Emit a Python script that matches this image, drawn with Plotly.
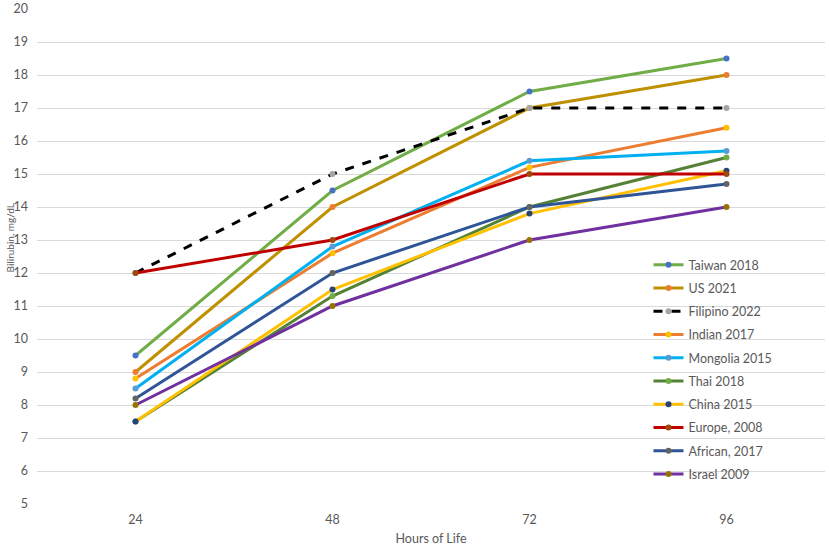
import plotly.graph_objects as go

hours = ["24", "48", "72", "96"]

taiwan_2018 = [9.5, 14.5, 17.5, 18.5]
us_2021 = [9.0, 14.0, 17.0, 18.0]
filipino_2022 = [12.0, 15.0, 17.0, 17.0]
indian_2017 = [8.8, 12.6, 15.2, 16.4]
mongolia_2015 = [8.5, 12.8, 15.4, 15.7]
thai_2018 = [7.5, 11.3, 14.0, 15.5]
china_2015 = [7.5, 11.5, 13.8, 15.1]
europe_2008 = [12.0, 13.0, 15.0, 15.0]
african_2017 = [8.2, 12.0, 14.0, 14.7]
israel_2009 = [8.0, 11.0, 13.0, 14.0]

# name, values, line colour, marker colour, dash
series = [
    ("Taiwan 2018", taiwan_2018, "#70AD47", "#4472C4", "solid"),
    ("US 2021", us_2021, "#BF9000", "#ED7D31", "solid"),
    ("Filipino 2022", filipino_2022, "#000000", "#A5A5A5", "dash"),
    ("Indian 2017", indian_2017, "#ED7D31", "#FFC000", "solid"),
    ("Mongolia 2015", mongolia_2015, "#00B0F0", "#5B9BD5", "solid"),
    ("Thai 2018", thai_2018, "#548235", "#70AD47", "solid"),
    ("China 2015", china_2015, "#FFC000", "#264478", "solid"),
    ("Europe, 2008", europe_2008, "#C00000", "#9E480E", "solid"),
    ("African, 2017", african_2017, "#2F5597", "#636363", "solid"),
    ("Israel 2009", israel_2009, "#7030A0", "#997300", "solid"),
]

fig = go.Figure()
for name, vals, lc, mc, dash in series:
    fig.add_trace(go.Scatter(
        x=hours, y=vals, name=name, mode="lines+markers",
        legendgroup=name,
        line=dict(color=lc, width=3, dash=dash),
        marker=dict(color=mc, size=6),
    ))

fig.update_layout(
    width=829, height=549,
    margin=dict(l=37, r=4, t=9, b=45),
    paper_bgcolor="white", plot_bgcolor="white",
    font=dict(family="Lato, Open Sans, sans-serif", size=12.5, color="#595959"),
    showlegend=True,
    legend=dict(
        x=0.776, y=0.513, xanchor="left", yanchor="top",
        bgcolor="rgba(0,0,0,0)", tracegroupgap=4,
        font=dict(size=12.5, color="#595959"),
    ),
    xaxis=dict(
        type="category", range=[-0.5, 3.5], showgrid=False, zeroline=False,
        showline=False, ticks="", automargin=False, ticklabelstandoff=6,
        title=dict(text="Hours of Life", font=dict(size=12.5), standoff=8),
    ),
    yaxis=dict(
        range=[5, 20], dtick=1, showgrid=True, gridcolor="#D9D9D9", gridwidth=1,
        zeroline=False, showline=False, ticks="", ticklabelstandoff=8,
        automargin=False,
    ),
)

# y title placed by hand, it sits close to the tick labels in the original
fig.add_annotation(
    text="Bilirubin, mg/dL", textangle=-90, showarrow=False,
    xref="paper", yref="paper", x=-0.034, y=0.537, xanchor="center", yanchor="middle",
    font=dict(size=10, color="#595959"),
)

# drop the default 8px body margin so the figure sits at the window corner
fig.write_html("out.html", config={"displayModeBar": False},
               post_script="document.body.style.margin = '0';")
